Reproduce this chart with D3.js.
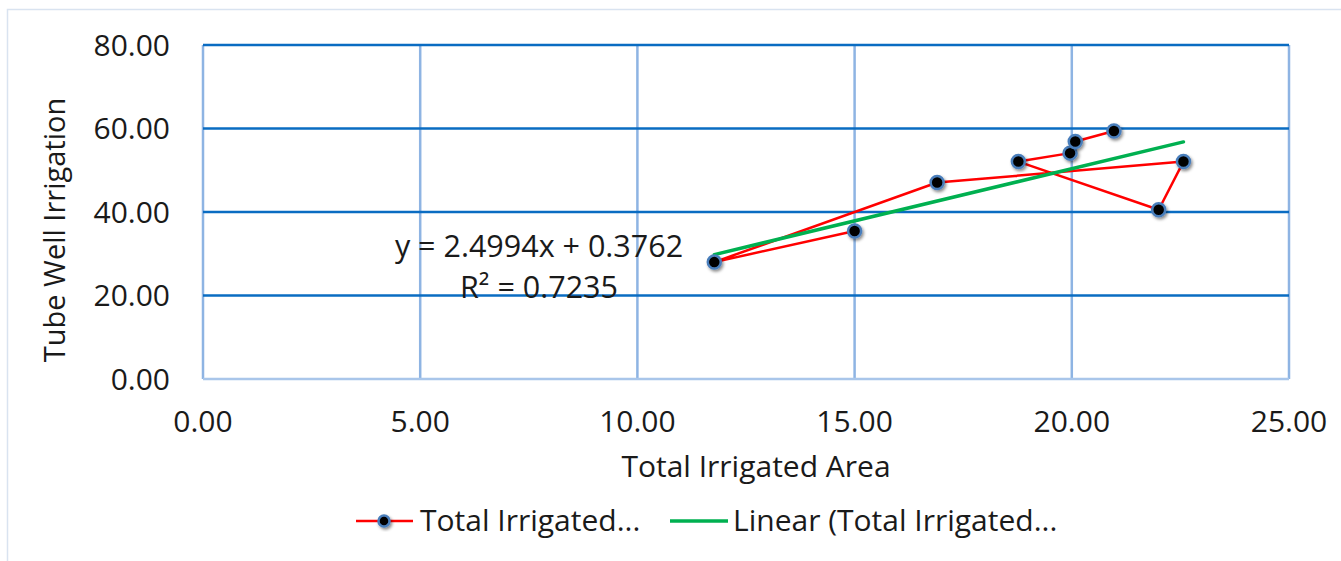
<!DOCTYPE html>
<html>
<head>
<meta charset="utf-8">
<script src="https://cdn.jsdelivr.net/npm/d3@7"></script>
<style>
    html, body { margin: 0; padding: 0; background: #ffffff; }
    svg { display: block; font-family: "Open Sans", sans-serif; }
</style>
</head>
<body>
<svg id="chart" width="1341" height="561"></svg>
<script>
"use strict";

//  Data (in the order the series is plotted)  ---
var irrigatedArea = [15.00, 11.77, 16.90, 22.57, 22.00, 18.77, 19.96, 20.08, 20.97];
var tubeWell = [35.45, 28.00, 47.06, 52.08, 40.55, 52.08, 54.10, 56.90, 59.40];
var xTicks = [0, 5, 10, 15, 20, 25];
var yTicks = [0, 20, 40, 60, 80];
var trendSlope = 2.4994;
var trendIntercept = 0.3762;
var trendR2 = 0.7235;
var seriesName = "Total Irrigated...";
var trendName = "Linear (Total Irrigated...";

(function () {
    var svg = d3.select("#chart");
    var plot = { left: 203, right: 1289, top: 45, bottom: 379 };

    var x = d3.scaleLinear().domain([0, 25]).range([plot.left, plot.right]);
    var y = d3.scaleLinear().domain([0, 80]).range([plot.bottom, plot.top]);
    var fmt = d3.format(".2f");

    var defs = svg.append("defs");
    var shadow = defs.append("filter").attr("id", "shadow")
        .attr("x", "-50%").attr("y", "-50%").attr("width", "200%").attr("height", "200%");
    shadow.append("feDropShadow")
        .attr("dx", 1.5).attr("dy", 2).attr("stdDeviation", 1.5)
        .attr("flood-color", "#000").attr("flood-opacity", 0.45);

    //  Chart border  ---
    svg.append("rect")
        .attr("x", 7.5).attr("y", 9.5)
        .attr("width", 1360).attr("height", 600)
        .attr("fill", "none")
        .attr("stroke", "#d9e3f0")
        .attr("stroke-width", 1.5)
    ;

    //  Grid  ---
    svg.append("g").selectAll("line").data(xTicks).enter().append("line")
        .attr("x1", function (d) { return x(d); })
        .attr("x2", function (d) { return x(d); })
        .attr("y1", plot.top)
        .attr("y2", plot.bottom)
        .attr("stroke", "#8eb4e3")
        .attr("stroke-width", 2.5)
    ;
    svg.append("line")
        .attr("x1", plot.left).attr("x2", plot.right)
        .attr("y1", plot.bottom).attr("y2", plot.bottom)
        .attr("stroke", "#a9c6ea")
        .attr("stroke-width", 2.5)
    ;
    svg.append("g").selectAll("line").data(yTicks.filter(function (d) { return d > 0; })).enter().append("line")
        .attr("x1", plot.left)
        .attr("x2", plot.right)
        .attr("y1", function (d) { return y(d); })
        .attr("y2", function (d) { return y(d); })
        .attr("stroke", "#0a6cc2")
        .attr("stroke-width", 2.5)
    ;

    //  Tick labels  ---
    svg.append("g").selectAll("text").data(xTicks).enter().append("text")
        .attr("x", function (d) { return x(d); })
        .attr("y", 432)
        .attr("text-anchor", "middle")
        .style("font-size", "30px")
        .attr("fill", "#1a1a1a")
        .text(fmt)
    ;
    svg.append("g").selectAll("text").data(yTicks).enter().append("text")
        .attr("x", 170)
        .attr("y", function (d) { return y(d) + 10.5; })
        .attr("text-anchor", "end")
        .style("font-size", "30px")
        .attr("fill", "#1a1a1a")
        .text(fmt)
    ;

    //  Axis titles  ---
    svg.append("text")
        .attr("x", 756).attr("y", 477)
        .attr("text-anchor", "middle")
        .style("font-size", "30px")
        .attr("fill", "#1a1a1a")
        .text("Total Irrigated Area")
    ;
    svg.append("text")
        .attr("transform", "translate(65,230) rotate(-90)")
        .attr("text-anchor", "middle")
        .style("font-size", "29px")
        .attr("fill", "#1a1a1a")
        .text("Tube Well Irrigation")
    ;

    //  Series line  ---
    var points = irrigatedArea.map(function (d, i) { return [d, tubeWell[i]]; });
    var line = d3.line()
        .x(function (d) { return x(d[0]); })
        .y(function (d) { return y(d[1]); });

    svg.append("path")
        .datum(points)
        .attr("d", line)
        .attr("fill", "none")
        .attr("stroke", "#ff0000")
        .attr("stroke-width", 2.5)
        .attr("stroke-linejoin", "round")
    ;

    //  Trend line  ---
    var ext = d3.extent(irrigatedArea);
    var trend = ext.map(function (v) { return [v, trendSlope * v + trendIntercept]; });
    svg.append("path")
        .datum(trend)
        .attr("d", line)
        .attr("fill", "none")
        .attr("stroke", "#00b050")
        .attr("stroke-width", 3.5)
        .attr("stroke-linecap", "round")
    ;

    //  Markers  ---
    svg.append("g").selectAll("circle").data(points).enter().append("circle")
        .attr("cx", function (d) { return x(d[0]); })
        .attr("cy", function (d) { return y(d[1]); })
        .attr("r", 6.5)
        .attr("fill", "#000000")
        .attr("stroke", "#4a7ebb")
        .attr("stroke-width", 2.5)
        .attr("filter", "url(#shadow)")
    ;

    //  Equation label  ---
    var eq = svg.append("text")
        .attr("text-anchor", "middle")
        .style("font-size", "30.5px")
        .attr("fill", "#1a1a1a")
    ;
    eq.append("tspan")
        .attr("x", 539).attr("y", 257)
        .text("y = " + trendSlope.toFixed(4) + "x + " + trendIntercept.toFixed(4));
    eq.append("tspan")
        .attr("x", 539).attr("y", 298)
        .text("R\u00b2 = " + trendR2.toFixed(4));

    //  Legend  ---
    var legend = svg.append("g");
    legend.append("line")
        .attr("x1", 356).attr("x2", 413).attr("y1", 521).attr("y2", 521)
        .attr("stroke", "#ff0000").attr("stroke-width", 2.5);
    legend.append("circle")
        .attr("cx", 384).attr("cy", 521).attr("r", 5.5)
        .attr("fill", "#000").attr("stroke", "#4a7ebb").attr("stroke-width", 2.5)
        .attr("filter", "url(#shadow)");
    legend.append("text")
        .attr("x", 420).attr("y", 531)
        .style("font-size", "30px")
        .attr("fill", "#1a1a1a")
        .text(seriesName);
    legend.append("line")
        .attr("x1", 670).attr("x2", 728).attr("y1", 521).attr("y2", 521)
        .attr("stroke", "#00b050").attr("stroke-width", 3.5);
    legend.append("text")
        .attr("x", 733).attr("y", 531)
        .style("font-size", "30px")
        .attr("fill", "#1a1a1a")
        .text(trendName);
}());
</script>
</body>
</html>
